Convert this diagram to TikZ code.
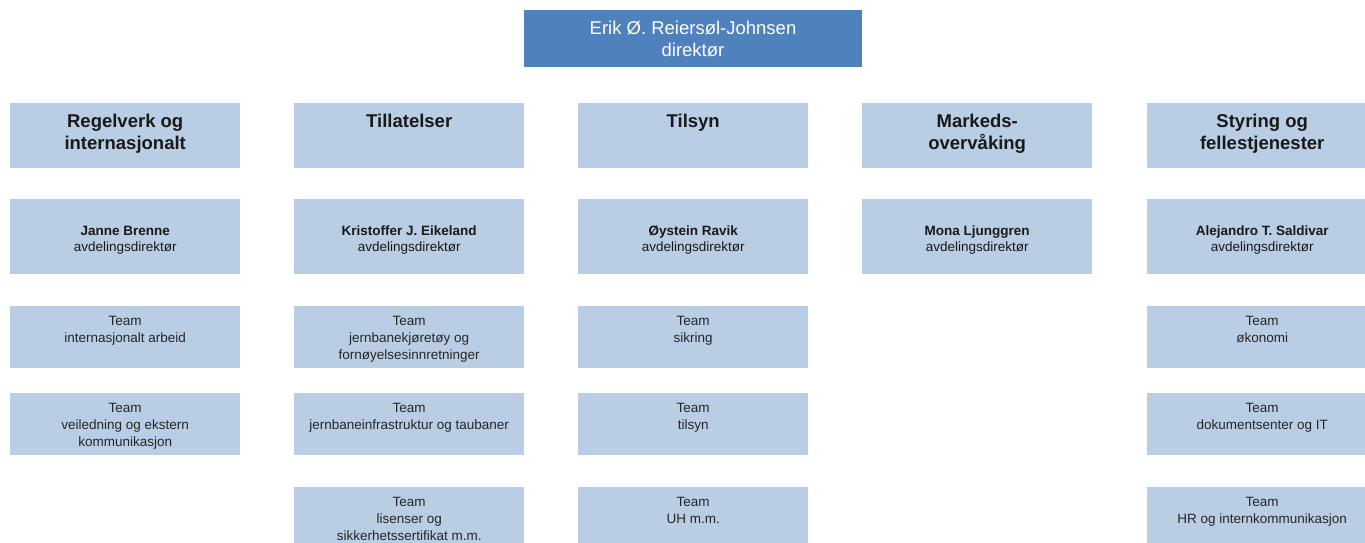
\documentclass[tikz,border=0pt]{standalone}
\usepackage{fontspec}
\setmainfont{Liberation Sans}
\usetikzlibrary{positioning}

\definecolor{bossblue}{HTML}{4F81BD}
\definecolor{unitblue}{HTML}{B9CDE5}

\tikzset{
  unit/.style={fill=unitblue, inner sep=0pt, anchor=north west, minimum width=230pt},
  headbox/.style={unit, minimum height=65pt},
  leaderbox/.style={unit, minimum height=75pt, align=center,
    font=\fontsize{13.5}{16}\selectfont, text=black!90, text height=31.5pt},
  teambox/.style={unit, minimum height=62pt},
  headtext/.style={inner sep=0pt, anchor=north, align=center,
    font=\fontsize{18.5}{22}\selectfont\bfseries, text=black!90},
  teamtext/.style={inner sep=0pt, anchor=north, align=center,
    font=\fontsize{13.5}{17}\selectfont, text=black!85},
}

\begin{document}
\begin{tikzpicture}[x=1pt, y=-1pt]
\useasboundingbox (0,0) rectangle (1365,543);
\clip (0,0) rectangle (1365,543);

\def\xa{10}
\def\xb{294}
\def\xc{578}
\def\xd{862}
\def\xe{1147}

\def\ya{103}
\def\yb{199}
\def\yc{306}
\def\yd{393}
\def\ye{487}

% direktoer
\node[fill=bossblue, minimum width=338pt, minimum height=57pt, inner sep=0pt,
  align=center, text=white, font=\fontsize{18.5}{22}\selectfont]
  (boss) at (693, 38.5) {Erik Ø. Reiersøl-Johnsen\\direktør};

% avdelinger
\node[headbox] (regel) at (\xa, \ya) {};
\node[headbox] (tillat) at (\xb, \ya) {};
\node[headbox] (tilsyn) at (\xc, \ya) {};
\node[headbox] (marked) at (\xd, \ya) {};
\node[headbox] (styring) at (\xe, \ya) {};
\node[headtext, below=11pt of regel.north] (regelname) {Regelverk og\\internasjonalt};
\node[headtext, below=11pt of tillat.north] (tillatname) {Tillatelser};
\node[headtext, below=11pt of tilsyn.north] (tilsynname) {Tilsyn};
\node[headtext, below=11pt of marked.north] (markedname) {Markeds-\\overvåking};
\node[headtext, below=11pt of styring.north] (styringname) {Styring og\\fellestjenester};

% avdelingsdirektoerer
\node[leaderbox] (regelboss) at (\xa, \yb) {\textbf{Janne Brenne}\\avdelingsdirektør};
\node[leaderbox] (tillatboss) at (\xb, \yb) {\textbf{Kristoffer J. Eikeland}\\avdelingsdirektør};
\node[leaderbox] (tilsynboss) at (\xc, \yb) {\textbf{Øystein Ravik}\\avdelingsdirektør};
\node[leaderbox] (markedboss) at (\xd, \yb) {\textbf{Mona Ljunggren}\\avdelingsdirektør};
\node[leaderbox] (styringboss) at (\xe, \yb) {\textbf{Alejandro T. Saldivar}\\avdelingsdirektør};

% team
\node[teambox] (regelA) at (\xa, \yc) {};
\node[teambox] (regelB) at (\xa, \yd) {};
\node[teamtext, below=10pt of regelA.north] (regelAtxt) {Team\\internasjonalt arbeid};
\node[teamtext, below=10pt of regelB.north] (regelBtxt) {Team\\veiledning og ekstern\\kommunikasjon};

\node[teambox] (tillatA) at (\xb, \yc) {};
\node[teambox] (tillatB) at (\xb, \yd) {};
\node[teambox] (tillatC) at (\xb, \ye) {};
\node[teamtext, below=10pt of tillatA.north] (tillatAtxt) {Team\\jernbanekjøretøy og\\fornøyelsesinnretninger};
\node[teamtext, below=10pt of tillatB.north] (tillatBtxt) {Team\\jernbaneinfrastruktur og taubaner};
\node[teamtext, below=10pt of tillatC.north] (tillatCtxt) {Team\\lisenser og\\sikkerhetssertifikat m.m.};

\node[teambox] (tilsynA) at (\xc, \yc) {};
\node[teambox] (tilsynB) at (\xc, \yd) {};
\node[teambox] (tilsynC) at (\xc, \ye) {};
\node[teamtext, below=10pt of tilsynA.north] (tilsynAtxt) {Team\\sikring};
\node[teamtext, below=10pt of tilsynB.north] (tilsynBtxt) {Team\\tilsyn};
\node[teamtext, below=10pt of tilsynC.north] (tilsynCtxt) {Team\\UH m.m.};

\node[teambox] (styringA) at (\xe, \yc) {};
\node[teambox] (styringB) at (\xe, \yd) {};
\node[teambox] (styringC) at (\xe, \ye) {};
\node[teamtext, below=10pt of styringA.north] (styringAtxt) {Team\\økonomi};
\node[teamtext, below=10pt of styringB.north] (styringBtxt) {Team\\dokumentsenter og IT};
\node[teamtext, below=10pt of styringC.north] (styringCtxt) {Team\\HR og internkommunikasjon};

\end{tikzpicture}
\end{document}
